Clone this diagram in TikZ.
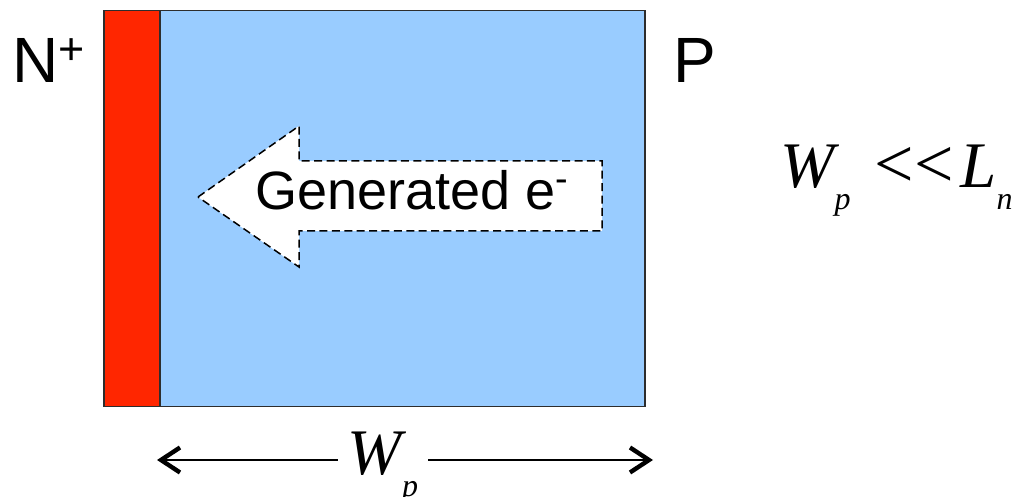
\documentclass[tikz,border=0pt]{standalone}
\usepackage{fontspec}
\setmainfont{Liberation Sans}
\newfontfamily\tnr{Liberation Serif}
\usetikzlibrary{arrows.meta,positioning,calc}
\definecolor{nplusred}{RGB}{255,38,0}
\definecolor{pblue}{RGB}{153,204,255}
\definecolor{edgegray}{RGB}{45,45,45}
\newcommand{\mathsub}[2]{{\tnr\fontsize{32.5}{36}\selectfont\itshape #1\raisebox{-11pt}{\fontsize{16}{18}\selectfont #2}}}

\begin{document}
\begin{tikzpicture}[x=0.5pt,y=-0.5pt,
  region/.style={draw=edgegray,line width=.75pt,inner sep=0pt,anchor=north west},
  side/.style={font=\fontsize{32}{36}\selectfont,inner sep=0pt,anchor=base west},
  carrier/.style={draw=black,fill=white,line width=.75pt,dash pattern=on 4pt off 2.2pt},
  dim/.style={{Straight Barb[length=9.5pt,width=12.5pt,line width=2.2pt]}-,line width=.8pt}]

\path[use as bounding box] (0,0) rectangle (1019,497);
% doped regions
\node[region,fill=pblue,minimum width=242.5pt,minimum height=198pt] (preg) at (159,10) {};
\node[region,fill=nplusred,minimum width=28pt,minimum height=198pt] (nreg) at (103,10) {};
\node[side] (nlbl) at (12,83) {N\textsuperscript{+}};
\node[side] (plbl) at (673,83) {P};
% electron flow
\draw[carrier] (198,197) -- (299,126) -- (299,161) -- (602,161) -- (602,231)
  -- (299,231) -- (299,267) -- cycle;
\node[font=\fontsize{27}{30}\selectfont,inner sep=0pt,anchor=base west] (gen) at (255,210)
  {Generated e\textsuperscript{-}};
% width condition
\node[inner sep=0pt,anchor=base west] (cond) at (780,188)
  {\mathsub{W}{p}{\tnr\fontsize{35}{38}\selectfont\hspace{12pt}\textless\textless\hspace{3.5pt}}\mathsub{L}{n}};
% base width
\coordinate (wl) at (157,460);
\coordinate (wr) at (653,460);
\node[inner xsep=5pt,inner ysep=0pt,anchor=base] (wplbl) at (383,475) {\mathsub{W}{p}};
\draw[dim] (wl) -- (wplbl.west |- wl);
\draw[dim] (wr) -- (wplbl.east |- wr);

\end{tikzpicture}
\end{document}
